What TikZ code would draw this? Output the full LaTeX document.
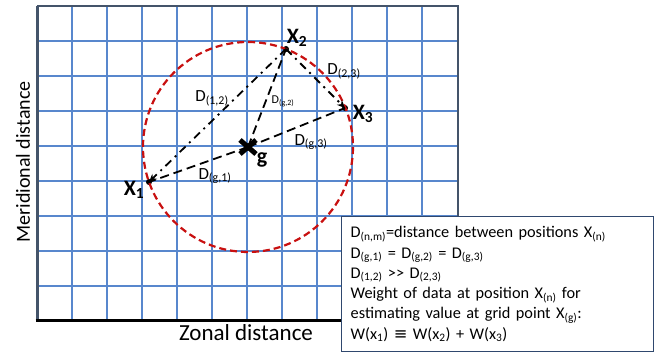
\documentclass[tikz,border=0pt]{standalone}
\usepackage{fontspec}
\setmainfont{Carlito}
\newfontfamily\symfont{DejaVu Sans}
\usetikzlibrary{arrows.meta,calc}
\definecolor{gridblue}{RGB}{88,135,205}
\definecolor{framecol}{RGB}{68,84,106}
\definecolor{circred}{RGB}{200,16,16}
\definecolor{boxcol}{RGB}{47,72,110}
\tikzset{
  gridline/.style={draw=gridblue, line width=1.4pt},
  circlestyle/.style={draw=circred, line width=2.2pt, dash pattern=on 7pt off 4pt},
  gline/.style={draw=black, line width=1.8pt, dash pattern=on 9pt off 5pt},
  pline/.style={draw=black, line width=1.8pt, dash pattern=on 8pt off 5pt on 2pt off 5pt},
  ptlabel/.style={font=\fontsize{22}{24}\selectfont\bfseries, inner sep=0pt},
  dlabel/.style={font=\fontsize{17}{19}\selectfont, inner sep=0pt},
  smalld/.style={font=\fontsize{12}{14}\selectfont, inner sep=0pt},
  axislabel/.style={font=\fontsize{20}{22}\selectfont, inner sep=0pt},
  legendbox/.style={draw=boxcol, line width=1.4pt, fill=white, anchor=north west,
    minimum width=312pt, minimum height=135pt, text width=294pt, inner xsep=9pt, inner ysep=0pt,
    align=left, font=\fontsize{16.3}{20.3}\selectfont},
  ptdot/.style={circle, fill=black, inner sep=0pt, minimum size=6pt}
}
\begin{document}
\begin{tikzpicture}[x=1pt,y=-1pt]
\useasboundingbox (0,0) rectangle (657,355);
% grid
\foreach \i in {1,...,11} {\draw[gridline] ({37+35*\i},6) -- ({37+35*\i},321);}
\foreach \j in {1,...,8} {\draw[gridline] (37,{6+35*\j}) -- (458,{6+35*\j});}
% frame
\draw[draw=framecol, line width=2.2pt] (37,6) -- (458,6) -- (458,321);
\draw[draw=framecol, line width=3pt] (37,6) -- (37,321);
\draw[draw=black, line width=3pt] (35.5,321) -- (458,321);
% points
\coordinate (g) at (248,147);
\node[ptdot] (x1) at (149,182) {};
\node[ptdot] (x2) at (286,49) {};
\node[ptdot] (x3) at (345,108) {};
% circle
\draw[circlestyle] (g) circle[radius=105];
% lines
\draw[gline] (g) -- (x1.center);
\draw[gline] (g) -- (x2.center);
\draw[gline] (g) -- (x3.center);
\draw[pline, -{Stealth[length=8pt,width=7pt]}] (x2.center) -- (x1.center);
\draw[pline, -{Stealth[length=8pt,width=7pt]}] (x2.center) -- (x3.center);
% cross
\draw[line width=5pt] ($(g)+(-8,-7)$) -- ($(g)+(8,7)$);
\draw[line width=5pt] ($(g)+(-8,7)$) -- ($(g)+(8,-7)$);
% labels
\node[ptlabel] (lx1) at (134,190) {X\textsubscript{1}};
\node[ptlabel] (lx2) at (297,38) {X\textsubscript{2}};
\node[ptlabel] (lx3) at (363,114) {X\textsubscript{3}};
\node[ptlabel] (lg) at (262,160) {g};
\node[dlabel] (d12) at (212,98) {D\textsubscript{(1,2)}};
\node[smalld] (dg2) at (283,101) {D\textsubscript{(g,2)}};
\node[dlabel] (d23) at (344,71) {D\textsubscript{(2,3)}};
\node[dlabel] (dg3) at (311,142) {D\textsubscript{(g,3)}};
\node[dlabel] (dg1) at (215,176) {D\textsubscript{(g,1)}};
% axis labels
\node[axislabel, font=\fontsize{23}{25}\selectfont] (zonal) at (246,333) {Zonal distance};
\node[axislabel, rotate=90] (merid) at (23,162) {Meridional distance};
% legend
\node[legendbox] (legend) at (341,216) {%
D\textsubscript{(n,m)}=distance between positions X\textsubscript{(n)}\\
D\textsubscript{(g,1)} = D\textsubscript{(g,2)} = D\textsubscript{(g,3)}\\
D\textsubscript{(1,2)} {>}{>} D\textsubscript{(2,3)}\\
Weight of data at position X\textsubscript{(n)} for\\
estimating value at grid point X\textsubscript{(g)}:\\
W(x\textsubscript{1}) {\symfont ≡} W(x\textsubscript{2}) + W(x\textsubscript{3})};
\end{tikzpicture}
\end{document}
